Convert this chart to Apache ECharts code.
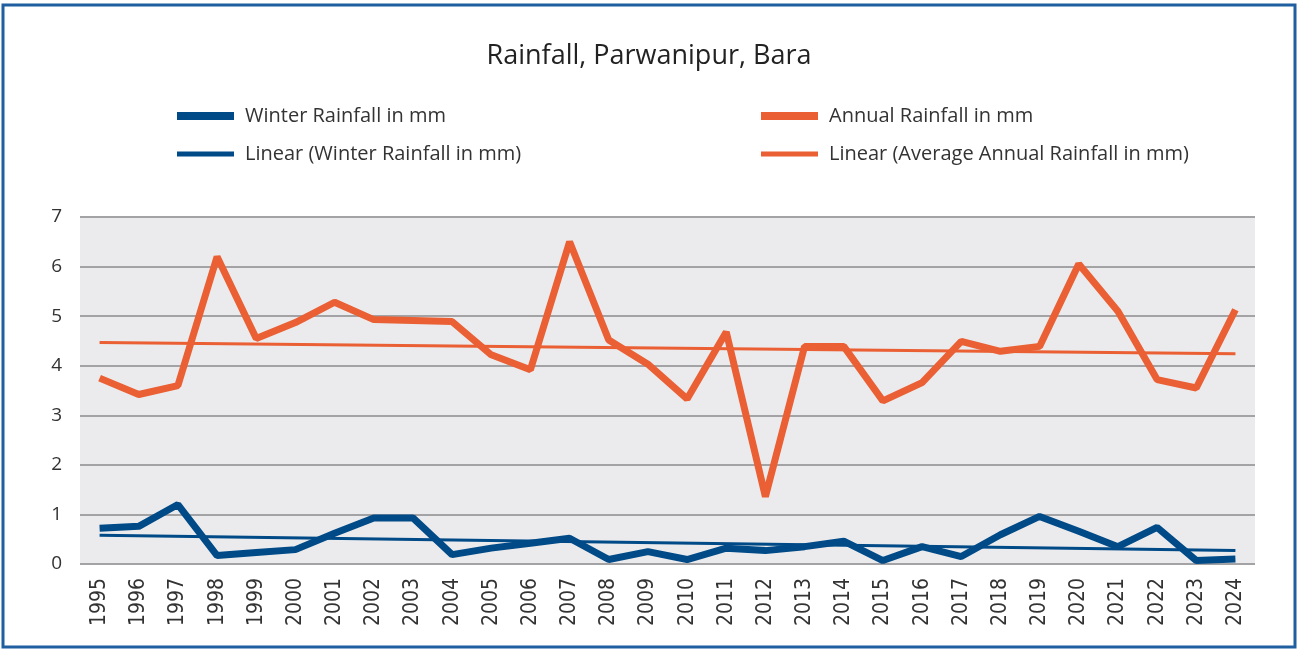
<!DOCTYPE html>
<html>
<head>
<meta charset="utf-8">
<script src="https://cdn.jsdelivr.net/npm/echarts@6/dist/echarts.min.js"></script>
<style>
  html, body { margin: 0; padding: 0; background: #fff; }
  #chart { width: 1298px; height: 650px; }
</style>
</head>
<body>
<div id="chart"></div>
<script>
// 年（カテゴリ）
const years = ['1995','1996','1997','1998','1999','2000','2001','2002','2003','2004',
  '2005','2006','2007','2008','2009','2010','2011','2012','2013','2014',
  '2015','2016','2017','2018','2019','2020','2021','2022','2023','2024'];

// 冬の降水量
const winterRain = [0.72, 0.76, 1.2, 0.17, 0.23, 0.29, 0.62, 0.93, 0.93, 0.19,
  0.32, 0.42, 0.52, 0.09, 0.25, 0.09, 0.32, 0.27, 0.35, 0.46,
  0.07, 0.35, 0.15, 0.59, 0.96, 0.66, 0.35, 0.74, 0.07, 0.1];

// 年間降水量
const annualRain = [3.75, 3.42, 3.6, 6.2, 4.55, 4.87, 5.28, 4.93, 4.91, 4.89,
  4.22, 3.92, 6.5, 4.52, 4.03, 3.33, 4.68, 1.36, 4.39, 4.39,
  3.29, 3.66, 4.49, 4.29, 4.39, 6.05, 5.1, 3.72, 3.55, 5.13];

// 近似直線（始点と終点、図から読み取り）
const winterTrend = [['1995', 0.58], ['2024', 0.27]];
const annualTrend = [['1995', 4.47], ['2024', 4.24]];

const yTicks = [0, 7, 1]; // min, max, interval

const blue = '#004a87';
const orange = '#ea5f33';
const font = '"Open Sans", Lato, sans-serif';

const chart = echarts.init(document.getElementById('chart'));

function legendAt(name, left, top, h) {
  return {
    data: [name], left: left, top: top,
    icon: 'rect', itemWidth: 57, itemHeight: h, itemGap: 10,
    textStyle: { fontFamily: font, fontSize: 20, color: '#333', padding: [0, 0, 0, 6] }
  };
}

const option = {
  animation: false,
  title: {
    text: 'Rainfall, Parwanipur, Bara',
    left: 'center', top: 38,
    textStyle: { fontFamily: font, fontSize: 27, fontWeight: 'normal', color: '#222' }
  },
  legend: [
    legendAt('Winter Rainfall in mm', 172, 101, 8),
    legendAt('Annual Rainfall in mm', 756, 101, 8),
    legendAt('Linear (Winter Rainfall in mm)', 172, 139, 5),
    legendAt('Linear (Average Annual Rainfall in mm)', 756, 139, 5)
  ],
  grid: { left: 80, right: 43, top: 217, bottom: 86, backgroundColor: '#ebebed', show: true, borderWidth: 0 },
  graphic: [{
    type: 'rect', shape: { x: 3, y: 5, width: 1292, height: 642 },
    style: { fill: 'none', stroke: '#1f5f9f', lineWidth: 3 }
  }],
  xAxis: {
    type: 'category', data: years, boundaryGap: true,
    axisLine: { show: false }, axisTick: { show: false },
    axisLabel: { rotate: 90, margin: 14, fontFamily: '"DejaVu Sans Condensed", "DejaVu Sans", sans-serif', fontSize: 21, color: '#333' }
  },
  yAxis: {
    type: 'value', min: yTicks[0], max: yTicks[1], interval: yTicks[2],
    axisLine: { show: false }, axisTick: { show: false },
    axisLabel: { margin: 18, fontFamily: font, fontSize: 19, color: '#333' },
    splitLine: { lineStyle: { color: '#a3a3a6', width: 2 } }
  },
  series: [
    { name: 'Winter Rainfall in mm', type: 'line', data: winterRain, showSymbol: false,
      color: blue, lineStyle: { width: 7, color: blue }, z: 3 },
    { name: 'Annual Rainfall in mm', type: 'line', data: annualRain, showSymbol: false,
      color: orange, lineStyle: { width: 7, color: orange }, z: 3 },
    { name: 'Linear (Winter Rainfall in mm)', type: 'line', data: winterTrend, showSymbol: false,
      color: blue, lineStyle: { width: 3, color: blue }, z: 2 },
    { name: 'Linear (Average Annual Rainfall in mm)', type: 'line', data: annualTrend, showSymbol: false,
      color: orange, lineStyle: { width: 3, color: orange }, z: 2 }
  ]
};

chart.setOption(option);
window.addEventListener('resize', chart.resize);
</script>
</body>
</html>
